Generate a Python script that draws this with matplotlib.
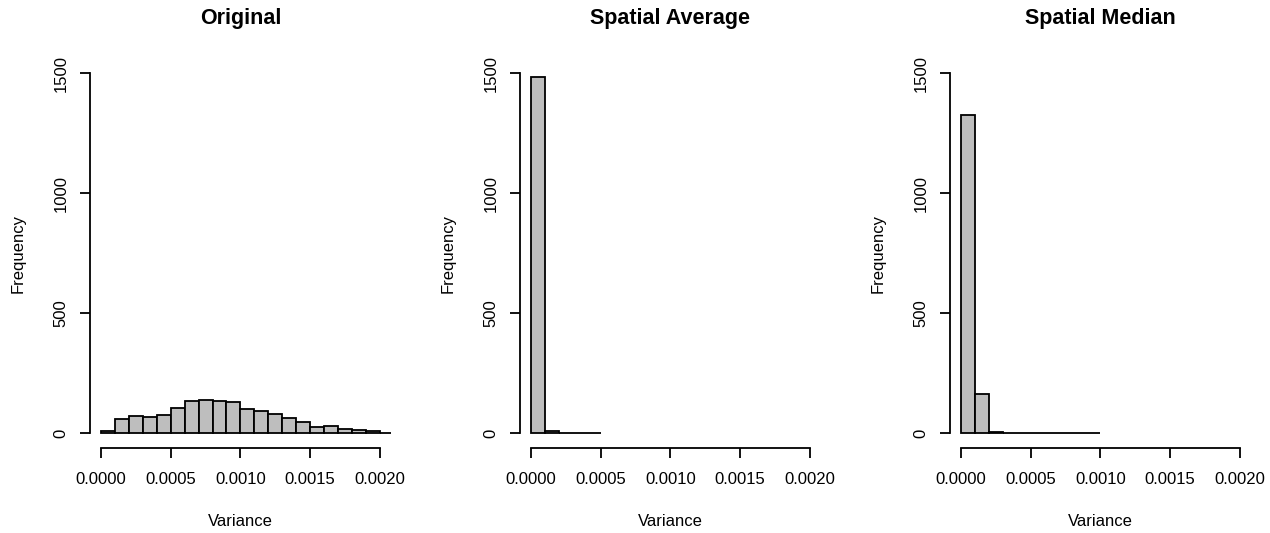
import matplotlib
matplotlib.use("Agg")
import matplotlib.pyplot as plt
import numpy as np

plt.rcParams['font.family'] = ['Liberation Sans', 'DejaVu Sans']

titles = ["Original", "Spatial Average", "Spatial Median"]
bin_width = 0.0001
counts_original = [8, 60, 71, 68, 78, 104, 136, 139, 135, 130, 101, 92, 79, 64, 47, 28, 29, 17, 15, 10, 2]
counts_average = [1487, 8, 3, 1, 1]
counts_median = [1325, 165, 5, 1, 1, 1, 1, 1, 1, 1]
all_counts = [counts_original, counts_average, counts_median]
x_ticks = [0.0, 0.0005, 0.0010, 0.0015, 0.0020]
x_tick_labels = ["0.0000", "0.0005", "0.0010", "0.0015", "0.0020"]
y_ticks = [0, 500, 1000, 1500]

W, H = 1270, 533
fig = plt.figure(figsize=(W / 100, H / 100), dpi=100)

lefts_px = [89.8, 519.8, 949.8]
width_px = 301.2
bottom_px, top_px = 447.8, 59.0
ax_h = bottom_px - top_px

for i, (title, counts) in enumerate(zip(titles, all_counts)):
    ax = fig.add_axes([lefts_px[i] / W, (H - bottom_px) / H, width_px / W, ax_h / H])
    edges = np.arange(len(counts)) * bin_width
    ax.bar(edges, counts, width=bin_width, align='edge', color='#BEBEBE',
           edgecolor='black', linewidth=1.3)
    ax.set_xlim(-0.00008, 0.00208)
    ax.set_ylim(-60, 1560)
    for s in ['top', 'right']:
        ax.spines[s].set_visible(False)
    ax.spines['left'].set_bounds(0, 1500)
    ax.spines['bottom'].set_bounds(0, 0.002)
    ax.spines['left'].set_linewidth(1.3)
    ax.spines['bottom'].set_linewidth(1.3)
    ax.set_xticks(x_ticks)
    ax.set_xticklabels(x_tick_labels)
    ax.set_yticks(y_ticks)
    ax.set_yticklabels([str(v) for v in y_ticks], rotation=90, va='center')
    ax.tick_params(axis='both', length=7.5, width=1.3, labelsize=12, color='black')
    ax.tick_params(axis='x', pad=10)
    ax.tick_params(axis='y', pad=8)
    ax.set_title(title, fontsize=15.5, fontweight='bold', pad=0,
                 y=(bottom_px - 18.5) / ax_h, va='center')
    ax.set_xlabel("Variance", fontsize=12)
    ax.xaxis.set_label_coords(0.5, -(521 - bottom_px) / ax_h)
    ax.set_ylabel("Frequency", fontsize=12)
    ax.yaxis.set_label_coords(-(lefts_px[i] - (18 + 430 * i)) / width_px, 0.5)
    ax.xaxis.label.set_va('center')
    ax.yaxis.label.set_va('center')

fig.savefig("out.png", dpi=100)
